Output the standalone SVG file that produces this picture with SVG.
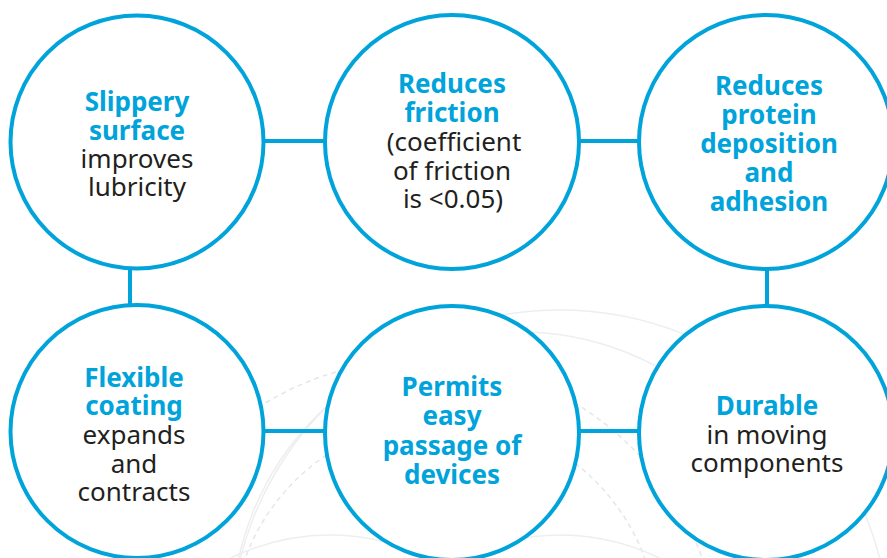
<svg xmlns="http://www.w3.org/2000/svg" width="887" height="558" viewBox="0 0 887 558">
<style>
.node{fill:#ffffff;stroke:#00a3da;stroke-width:4}
.conn{stroke:#00a3da;stroke-width:4;fill:none}
.deco{fill:none;stroke:#eceef0;stroke-width:1.5}
.dash{fill:none;stroke:#e4e6e8;stroke-width:1.5;stroke-dasharray:5 4}
text{font-family:"Noto Sans","Open Sans","Liberation Sans",sans-serif;font-size:26px;text-anchor:middle}
.b{font-weight:bold;fill:#00a3da}
.r{fill:#231f20}
</style>
<rect width="887" height="558" fill="#ffffff"/>
<g id="background">
<circle class="deco" cx="520" cy="620" r="288"/>
<circle class="deco" cx="560" cy="640" r="330"/>
<circle class="dash" cx="445" cy="632" r="213"/>
<circle class="dash" cx="420" cy="660" r="300"/>
<circle class="deco" cx="330" cy="760" r="225"/>
<circle class="deco" cx="560" cy="760" r="225"/>
</g>
<g id="connectors">
<line class="conn" x1="262" y1="141" x2="326" y2="141"/>
<line class="conn" x1="577" y1="141" x2="641" y2="141"/>
<line class="conn" x1="130" y1="266" x2="130" y2="306"/>
<line class="conn" x1="767" y1="266" x2="767" y2="306"/>
<line class="conn" x1="262" y1="431" x2="326" y2="431"/>
<line class="conn" x1="577" y1="431" x2="641" y2="431"/>
</g>
<g id="node1">
<circle class="node" cx="137" cy="142" r="126.5"/>
<text class="b" x="137" y="111">Slippery</text>
<text class="b" x="137" y="140">surface</text>
<text class="r" x="137" y="168">improves</text>
<text class="r" x="137" y="196">lubricity</text>
</g>
<g id="node2">
<circle class="node" cx="452" cy="142" r="127"/>
<text class="b" x="452" y="93">Reduces</text>
<text class="b" x="452" y="122">friction</text>
<text class="r" x="454" y="151">(coefficient</text>
<text class="r" x="452" y="180">of friction</text>
<text class="r" x="453" y="208">is &lt;0.05)</text>
</g>
<g id="node3">
<circle class="node" cx="766" cy="142" r="127"/>
<text class="b" x="769" y="95">Reduces</text>
<text class="b" x="769" y="124">protein</text>
<text class="b" x="769" y="153">deposition</text>
<text class="b" x="769" y="182">and</text>
<text class="b" x="769" y="211">adhesion</text>
</g>
<g id="node4">
<circle class="node" cx="137" cy="431.5" r="126.5"/>
<text class="b" x="134" y="387">Flexible</text>
<text class="b" x="134" y="415">coating</text>
<text class="r" x="134" y="444">expands</text>
<text class="r" x="134" y="473">and</text>
<text class="r" x="134" y="501">contracts</text>
</g>
<g id="node5">
<circle class="node" cx="452" cy="433" r="127"/>
<text class="b" x="452" y="396">Permits</text>
<text class="b" x="452" y="425">easy</text>
<text class="b" x="452" y="455">passage of</text>
<text class="b" x="452" y="484">devices</text>
</g>
<g id="node6">
<circle class="node" cx="766" cy="433" r="127"/>
<text class="b" x="767" y="415">Durable</text>
<text class="r" x="767" y="444">in moving</text>
<text class="r" x="767" y="472">components</text>
</g>
</svg>
